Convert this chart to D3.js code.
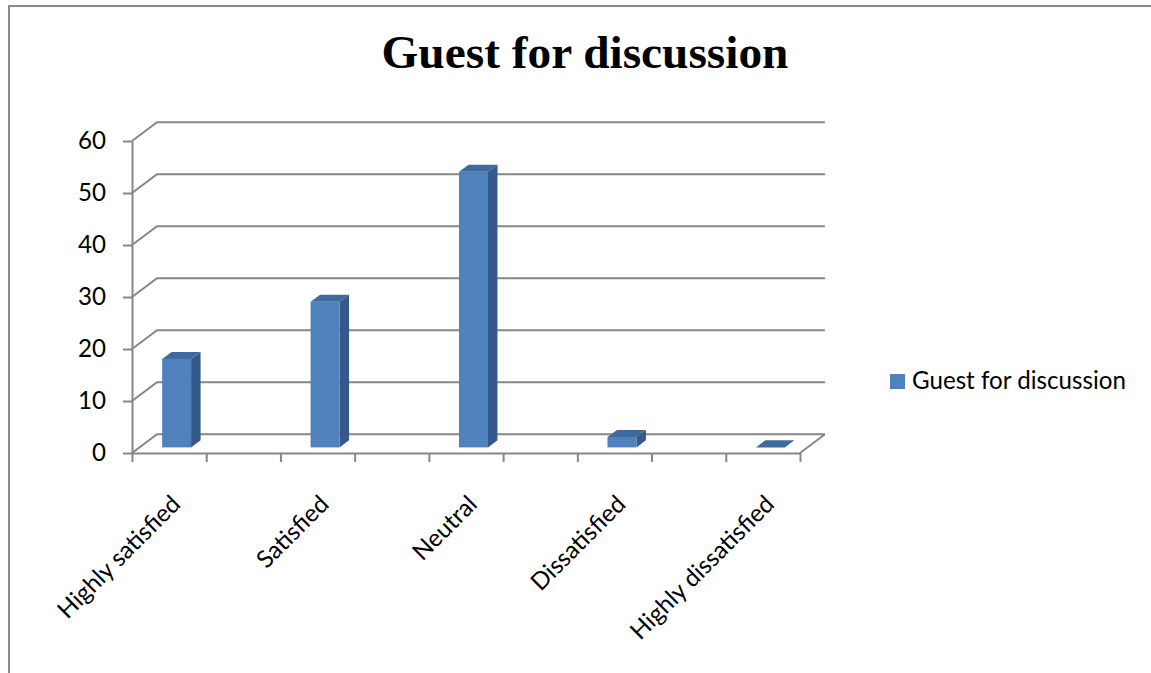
<!DOCTYPE html>
<html>
<head>
<meta charset="utf-8">
<script src="https://cdn.jsdelivr.net/npm/d3@7"></script>
<style>
  html, body { margin: 0; padding: 0; background: #fff; }
  svg { display: block; }
  text { font-family: Lato, "Open Sans", sans-serif; fill: #000; }
</style>
</head>
<body>
<svg id="chart" width="1151" height="673"></svg>
<script>
// ---- data ----
const chartTitle = "Guest for discussion";
const seriesName = "Guest for discussion";
const categories = ["Highly satisfied", "Satisfied", "Neutral", "Dissatisfied", "Highly dissatisfied"];
const values = [17, 28, 53, 2, 0];
const yTicks = [0, 10, 20, 30, 40, 50, 60];

// ---- layout ----
const W = 1151, H = 673;
const plotLeft = 132, plotRight = 800, plotBottom = 453, plotTop = 141;
const depthDx = 25, depthDy = -18.7;     // oblique offset of back wall
const slots = 9;                          // category axis slots
const barFrac = 0.39;                     // bar width as fraction of slot
const barZ0 = 0.3, barZ1 = 0.68;          // bar depth range (fraction of depth)
const gridColor = "#878787";
const barFront = "#4F81BD", barSide = "#35598A", barTop = "#3E6AA0";

const svg = d3.select("#chart");

// frame
svg.append("rect")
  .attr("x", 9).attr("y", 6).attr("width", W + 20).attr("height", H + 20)
  .attr("fill", "#fff").attr("stroke", "#8a8a8a").attr("stroke-width", 2);

// legend first: its text width sets the common label font size
const lg = svg.append("g");
lg.append("rect").attr("x", 890).attr("y", 374).attr("width", 15).attr("height", 15).attr("fill", barFront);
const lt = lg.append("text").attr("x", 912).attr("y", 389).attr("font-size", 22).text(seriesName);
const lw = lt.node().getComputedTextLength();
const fs = 22 * 214 / lw;
lt.attr("font-size", fs);

const y = d3.scaleLinear().domain([0, 60]).range([plotBottom, plotTop]);
const slot = d3.scaleLinear().domain([0, slots]).range([plotLeft, plotRight]);
const xCat = d3.scalePoint().domain(categories).range([slot(0.5), slot(slots - 0.5)]);
const slotW = slot(1) - slot(0);

// gridlines (left wall diagonal + back wall)
const grid = svg.append("g").attr("fill", "none").attr("stroke", gridColor).attr("stroke-width", 2);
yTicks.forEach(v => {
  const yy = y(v);
  grid.append("path")
    .attr("d", `M${plotLeft},${yy}L${plotLeft + depthDx},${yy + depthDy}L${plotRight + depthDx},${yy + depthDy}`);
});
// floor right edge
grid.append("path")
  .attr("d", `M${plotRight},${y(0)}L${plotRight + depthDx},${y(0) + depthDy}`);

// y axis
const yAxis = svg.append("g")
  .attr("transform", `translate(${plotLeft},0)`)
  .call(d3.axisLeft(y).tickValues(yTicks).tickSize(9).tickSizeOuter(0).tickPadding(17));
yAxis.select(".domain").attr("stroke", gridColor).attr("stroke-width", 2);
yAxis.selectAll(".tick line").attr("stroke", gridColor).attr("stroke-width", 2);
yAxis.selectAll(".tick text")
  .style("font-family", "Lato, 'Open Sans', sans-serif")
  .attr("font-size", fs).attr("fill", "#000");

// x axis (front floor edge)
const xAxis = svg.append("g")
  .attr("transform", `translate(0,${plotBottom})`)
  .call(d3.axisBottom(slot).tickValues(d3.range(0, slots + 1)).tickFormat("").tickSize(9).tickSizeOuter(0));
xAxis.select(".domain").attr("stroke", gridColor).attr("stroke-width", 2);
xAxis.selectAll(".tick line").attr("stroke", gridColor).attr("stroke-width", 2);

// bars
const bw = slotW * barFrac;
const bars = svg.append("g");
categories.forEach((c, i) => {
  const v = values[i];
  const x0 = xCat(c) - bw / 2 + depthDx * barZ0;
  const x1 = x0 + bw;
  const yb = y(0) + depthDy * barZ0;
  const yt = y(v) + depthDy * barZ0;
  const ddx = depthDx * (barZ1 - barZ0);
  const ddy = depthDy * (barZ1 - barZ0);
  const g = bars.append("g");
  if (v > 0) {
    g.append("path").attr("fill", barSide)
      .attr("d", `M${x1},${yt}L${x1 + ddx},${yt + ddy}L${x1 + ddx},${yb + ddy}L${x1},${yb}Z`);
    g.append("rect").attr("fill", barFront)
      .attr("x", x0).attr("y", yt).attr("width", bw).attr("height", yb - yt);
  }
  g.append("path").attr("fill", barTop)
    .attr("d", `M${x0},${yt}L${x0 + ddx},${yt + ddy}L${x1 + ddx},${yt + ddy}L${x1},${yt}Z`);
});

// category labels (rotated -45, text box top-right corner near category centre)
const asc = fs * 0.74 * Math.SQRT1_2;
svg.append("g").selectAll("text").data(categories).join("text")
  .attr("transform", d => `translate(${xCat(d) + asc},${493 + asc}) rotate(-45)`)
  .attr("text-anchor", "end")
  .attr("font-size", fs)
  .text(d => d);

// title
const t = svg.append("text")
  .attr("x", 585).attr("y", 68)
  .attr("text-anchor", "middle")
  .style("font-family", "'Liberation Serif', 'Times New Roman', serif")
  .attr("font-weight", "bold")
  .attr("font-size", 46)
  .text(chartTitle);
const tw = t.node().getComputedTextLength();
t.attr("font-size", 46 * 407 / tw);
</script>
</body>
</html>
